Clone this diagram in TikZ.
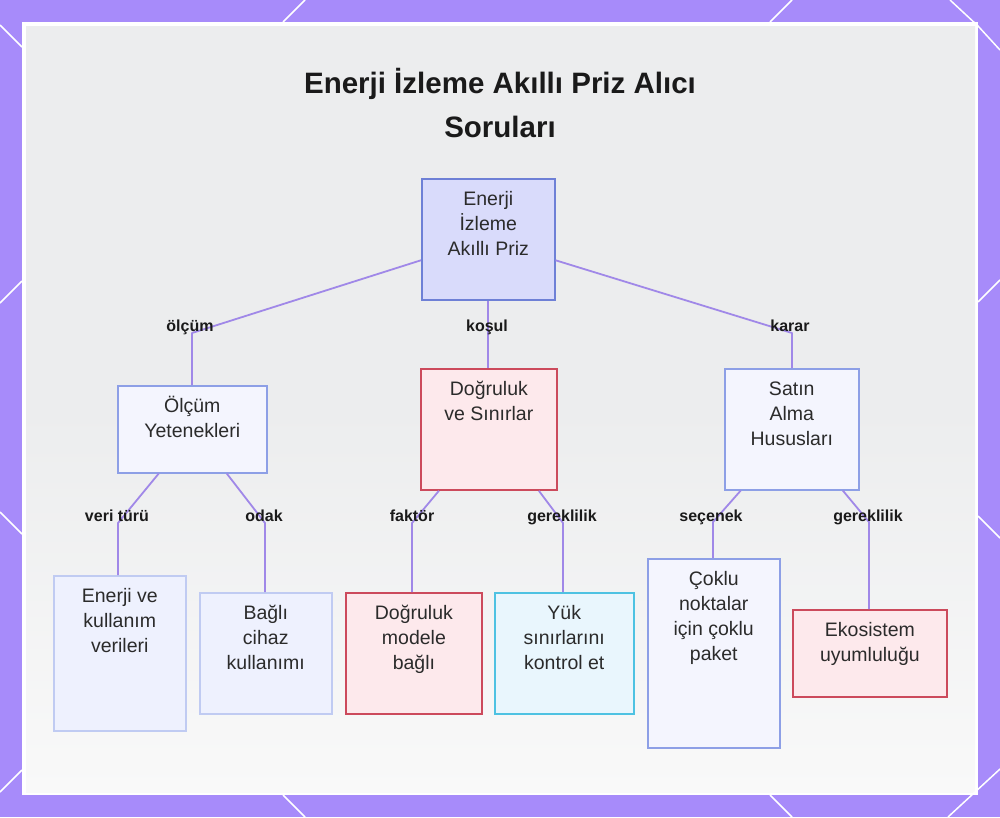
\documentclass[tikz,border=0pt]{standalone}
\usepackage{fontspec}
\setmainfont{Liberation Sans}
\usetikzlibrary{calc}
\definecolor{framec}{HTML}{A78BFA}
\definecolor{connc}{HTML}{A088E8}
\definecolor{bgtop}{HTML}{ECEDEE}
\definecolor{bgbot}{HTML}{F9F9F9}
\definecolor{rootfill}{HTML}{D9DBFB}
\definecolor{rootdraw}{HTML}{6E80D6}
\definecolor{lavfill}{HTML}{F4F5FE}
\definecolor{lavdraw}{HTML}{8D9FE6}
\definecolor{palefill}{HTML}{EEF1FE}
\definecolor{paledraw}{HTML}{C0CBF2}
\definecolor{pinkfill}{HTML}{FDE9EC}
\definecolor{pinkdraw}{HTML}{CC4A5C}
\definecolor{cyanfill}{HTML}{E9F6FD}
\definecolor{cyandraw}{HTML}{4EC2E2}
\definecolor{textc}{HTML}{2B2B2B}
\definecolor{labelc}{HTML}{1A1A1A}
\begin{document}
\begin{tikzpicture}[x=1pt,y=-1pt,
  box/.style={anchor=north west, inner sep=0pt, line width=1.5pt},
  rootbox/.style={box, fill=rootfill, draw=rootdraw},
  lavbox/.style={box, fill=lavfill, draw=lavdraw},
  palebox/.style={box, fill=palefill, draw=paledraw},
  pinkbox/.style={box, fill=pinkfill, draw=pinkdraw, line width=1.8pt},
  cyanbox/.style={box, fill=cyanfill, draw=cyandraw},
  txt/.style={anchor=base, inner sep=0pt, align=center, text=textc, font=\fontsize{19.5}{25}\selectfont},
  lbl/.style={anchor=base, inner sep=0pt, text=labelc, font=\bfseries\fontsize{16}{18}\selectfont},
  conn/.style={draw=connc, line width=1.8pt, line join=round},
  deco/.style={draw=white, line width=1.5pt}
]
\useasboundingbox (0,0) rectangle (1000,817);
% frame
\fill[framec] (0,0) rectangle (1000,817);
\fill[white] (22,22) rectangle (978,795);
\shade[top color=bgtop, bottom color=bgbot, middle color=bgtop] (26,26) rectangle (975,792);
% decorative diagonals
\draw[deco] (0,25) -- (22,47);
\draw[deco] (305,0) -- (283,22);
\draw[deco] (792,0) -- (770,22);
\draw[deco] (950,0) -- (978,26) -- (1000,50);
\draw[deco] (0,303) -- (22,281);
\draw[deco] (0,512) -- (22,534);
\draw[deco] (978,302) -- (1000,280);
\draw[deco] (978,516) -- (1000,538);
\draw[deco] (0,792) -- (22,770);
\draw[deco] (283,795) -- (305,817);
\draw[deco] (770,795) -- (792,817);
\draw[deco] (948,817) -- (1000,769);

% title (base anchor = baseline of last line)
\node[anchor=base, inner sep=0pt, align=center, text=labelc, font=\bfseries\fontsize{29.5}{44}\selectfont] (title) at (500,137) {Enerji İzleme Akıllı Priz Alıcı\\Soruları};

% boxes
\node[rootbox, minimum width=133pt, minimum height=121pt] (root) at (421,178) {};
\node[lavbox, minimum width=149pt, minimum height=87pt] (olcum) at (117,385) {};
\node[pinkbox, minimum width=136pt, minimum height=121pt] (dogru) at (420,368) {};
\node[lavbox, minimum width=134pt, minimum height=121pt] (satin) at (724,368) {};
\node[palebox, minimum width=132pt, minimum height=155pt] (enerji) at (53,575) {};
\node[palebox, minimum width=132pt, minimum height=121pt] (bagli) at (199,592) {};
\node[pinkbox, minimum width=136pt, minimum height=121pt] (dmodel) at (345,592) {};
\node[cyanbox, minimum width=139pt, minimum height=121pt] (yuk) at (494,592) {};
\node[lavbox, minimum width=132pt, minimum height=189pt] (coklu) at (647,558) {};
\node[pinkbox, minimum width=154pt, minimum height=87pt] (eko) at (792,609) {};

% box texts (base = last line baseline: 27 + 25*(lines-1) below box top)
\node[txt] (root-t) at ($(root.north)+(0,77)$) {Enerji\\İzleme\\Akıllı Priz};
\node[txt] (olcum-t) at ($(olcum.north)+(0,52)$) {Ölçüm\\Yetenekleri};
\node[txt] (dogru-t) at ($(dogru.north)+(0,52)$) {Doğruluk\\ve Sınırlar};
\node[txt] (satin-t) at ($(satin.north)+(0,77)$) {Satın\\Alma\\Hususları};
\node[txt] (enerji-t) at ($(enerji.north)+(0,77)$) {Enerji ve\\kullanım\\verileri};
\node[txt] (bagli-t) at ($(bagli.north)+(0,77)$) {Bağlı\\cihaz\\kullanımı};
\node[txt] (dmodel-t) at ($(dmodel.north)+(0,77)$) {Doğruluk\\modele\\bağlı};
\node[txt] (yuk-t) at ($(yuk.north)+(0,77)$) {Yük\\sınırlarını\\kontrol et};
\node[txt] (coklu-t) at ($(coklu.north)+(0,102)$) {Çoklu\\noktalar\\için çoklu\\paket};
\node[txt] (eko-t) at ($(eko.north)+(0,52)$) {Ekosistem\\uyumluluğu};

% bend coordinates
\coordinate (b1) at (192,333);
\coordinate (b3) at (792,333);
\coordinate (c1) at (118,523);
\coordinate (c2) at (265,523);
\coordinate (c3) at (412,523);
\coordinate (c4) at (563,523);
\coordinate (c5) at (713,522);
\coordinate (c6) at (869,522);

% connectors
\draw[conn] ([yshift=-21pt]root.west) -- (b1) -- (b1 |- olcum.north);
\draw[conn] (root.south) -- (root.south |- dogru.north);
\draw[conn] ([yshift=-21pt]root.east) -- (b3) -- (b3 |- satin.north);
\draw[conn] ([xshift=-33.5pt]olcum.south) -- (c1) -- (c1 |- enerji.north);
\draw[conn] ([xshift=34.5pt]olcum.south) -- (c2) -- (c2 |- bagli.north);
\draw[conn] ([xshift=-50pt]dogru.south) -- (c3) -- (c3 |- dmodel.north);
\draw[conn] ([xshift=50pt]dogru.south) -- (c4) -- (c4 |- yuk.north);
\draw[conn] ([xshift=-51pt]satin.south) -- (c5) -- (c5 |- coklu.north);
\draw[conn] ([xshift=51pt]satin.south) -- (c6) -- (c6 |- eko.north);

% labels
\node[lbl] (l1) at (190,331) {ölçüm};
\node[lbl] (l2) at (487,331) {koşul};
\node[lbl] (l3) at (790,331) {karar};
\node[lbl] (l4) at (117,521) {veri türü};
\node[lbl] (l5) at (264,521) {odak};
\node[lbl] (l6) at (412,521) {faktör};
\node[lbl] (l7) at (562,521) {gereklilik};
\node[lbl] (l8) at (711,521) {seçenek};
\node[lbl] (l9) at (868,521) {gereklilik};
\end{tikzpicture}
\end{document}
